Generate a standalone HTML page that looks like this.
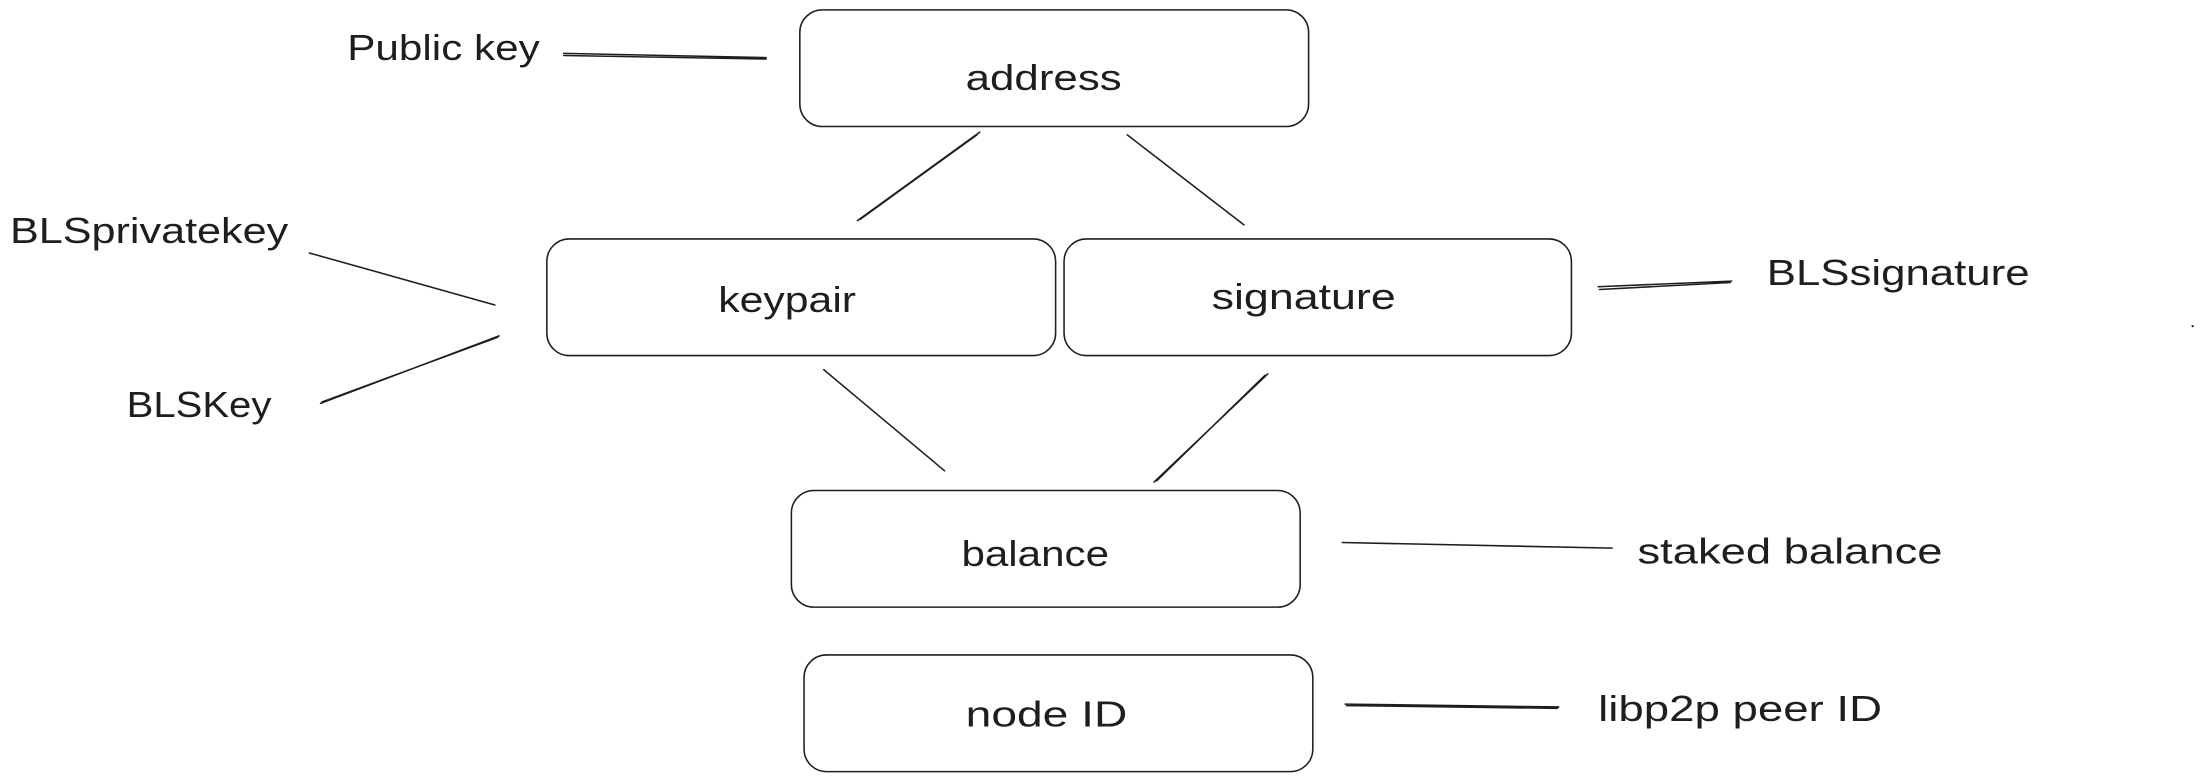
<!DOCTYPE html>
<html><head><meta charset="utf-8"><style>
html,body{margin:0;padding:0;background:#fff;}
svg{display:block;}
text{font-family:"Liberation Sans","DejaVu Sans",sans-serif;fill:#1e1e1e;}
</style></head><body>
<svg width="2204" height="782" viewBox="0 0 1568 556.4" xmlns="http://www.w3.org/2000/svg">
<rect width="1568" height="556.4" fill="#fff"/>
<g fill="none" stroke="#1e1e1e" stroke-width="1.1" stroke-linecap="round">
<rect x="569" y="7" width="362" height="83" rx="16"/>
<rect x="389" y="170" width="362" height="83" rx="16"/>
<rect x="757" y="170" width="361" height="83" rx="16"/>
<rect x="563" y="349" width="362" height="83" rx="16"/>
<rect x="572" y="466" width="362" height="83" rx="16"/>
<path d="M401 38 L545 41 M401 39.5 L545 42"/>
<path d="M697 94 L610 157 M695 96 L612 156"/>
<path d="M802 96 L885 160"/>
<path d="M220 180 L352 217"/>
<path d="M228 287 L355 239 M229 286 L354 240"/>
<path d="M1137 204 L1232 200 M1138 206 L1231 201"/>
<path d="M586 263 L672 335"/>
<path d="M902 266 L821 343 M900 267 L823 342"/>
<path d="M955 386 L1147 390"/>
<path d="M957 501 L1109 503 M958 502 L1108 504"/>
</g>
<circle cx="1560" cy="232" r="0.8" fill="#1e1e1e"/>
<g font-size="26" dominant-baseline="middle" lengthAdjust="spacingAndGlyphs">
<text x="687" y="57" textLength="111" lengthAdjust="spacingAndGlyphs">address</text>
<text x="511" y="215" textLength="98" lengthAdjust="spacingAndGlyphs">keypair</text>
<text x="862" y="213" textLength="131" lengthAdjust="spacingAndGlyphs">signature</text>
<text x="684" y="396" textLength="105" lengthAdjust="spacingAndGlyphs">balance</text>
<text x="687" y="510" textLength="115" lengthAdjust="spacingAndGlyphs">node ID</text>
<text x="247" y="36" textLength="137" lengthAdjust="spacingAndGlyphs">Public key</text>
<text x="7" y="166" textLength="198" lengthAdjust="spacingAndGlyphs">BLSprivatekey</text>
<text x="90" y="290" textLength="103" lengthAdjust="spacingAndGlyphs">BLSKey</text>
<text x="1257" y="196" textLength="187" lengthAdjust="spacingAndGlyphs">BLSsignature</text>
<text x="1165" y="394" textLength="217" lengthAdjust="spacingAndGlyphs">staked balance</text>
<text x="1137" y="506" textLength="202" lengthAdjust="spacingAndGlyphs">libp2p peer ID</text>
</g>
</svg>
</body></html>
